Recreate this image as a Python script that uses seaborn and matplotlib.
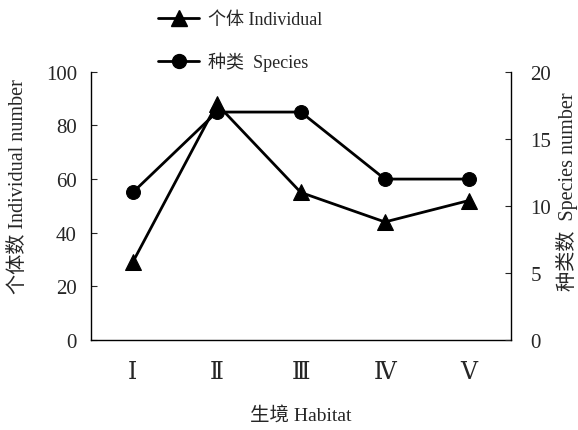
import numpy as np
import pandas as pd
import seaborn as sns
import matplotlib.pyplot as plt
from matplotlib.lines import Line2D

habitats = ["Ⅰ", "Ⅱ", "Ⅲ", "Ⅳ", "Ⅴ"]
individual = [29, 88, 55, 44, 52]
species = [11, 17, 17, 12, 12]

sns.set_style("white")
plt.rcParams['font.family'] = ['Liberation Serif', 'DejaVu Serif', 'Noto Sans CJK SC']
plt.rcParams['font.size'] = 14

df = pd.DataFrame({'pos': np.arange(len(habitats)), 'habitat': habitats,
                   'individual': individual, 'species': species})

fig = plt.figure(figsize=(5.78, 4.31), dpi=100)
ax = fig.add_axes([0.157, 0.209, 0.727, 0.622])
ax2 = ax.twinx()

sns.lineplot(data=df, x='pos', y='individual', ax=ax, color='black', lw=2,
             marker='^', markersize=11, markeredgecolor='black')
sns.lineplot(data=df, x='pos', y='species', ax=ax2, color='black', lw=2,
             marker='o', markersize=10, markeredgecolor='black')

ax.set_xlim(-0.5, 4.5)
ax.set_ylim(0, 100)
ax2.set_ylim(0, 20)
ax.set_yticks([0, 20, 40, 60, 80, 100])
ax2.set_yticks([0, 5, 10, 15, 20])
ax.set_xticks(df['pos'])
ax.set_xticklabels(habitats, fontsize=17)

for a in (ax, ax2):
    for s in a.spines.values():
        s.set_color('black')
        s.set_linewidth(1.0)
    a.spines['top'].set_visible(False)
ax.spines['right'].set_visible(False)
ax2.spines['left'].set_visible(False)
ax2.spines['bottom'].set_visible(False)

ax.tick_params(axis='y', direction='in', length=4, pad=10, left=True, labelsize=15)
ax.tick_params(axis='x', length=0, pad=16)
ax2.tick_params(axis='y', direction='in', length=4, pad=14, right=True, labelsize=15)

ax.set_xlabel("生境 Habitat", labelpad=16)
ax.set_ylabel("个体数 Individual number", fontsize=14.5)
ax2.set_ylabel("种类数  Species number", fontsize=14.5)
ax.yaxis.set_label_coords(-0.150, 0.575)
ax2.yaxis.set_label_coords(1.108, 0.556)

handles = [Line2D([], [], color='black', lw=2, marker='^', markersize=11),
           Line2D([], [], color='black', lw=2, marker='o', markersize=10)]
fig.legend(handles, ["个体 Individual", "种类  Species"], loc='upper left',
           bbox_to_anchor=(0.245, 1.01), frameon=False, handlelength=2.3,
           handletextpad=0.5, labelspacing=1.3, fontsize=13)

fig.savefig("out.png", dpi=100)
